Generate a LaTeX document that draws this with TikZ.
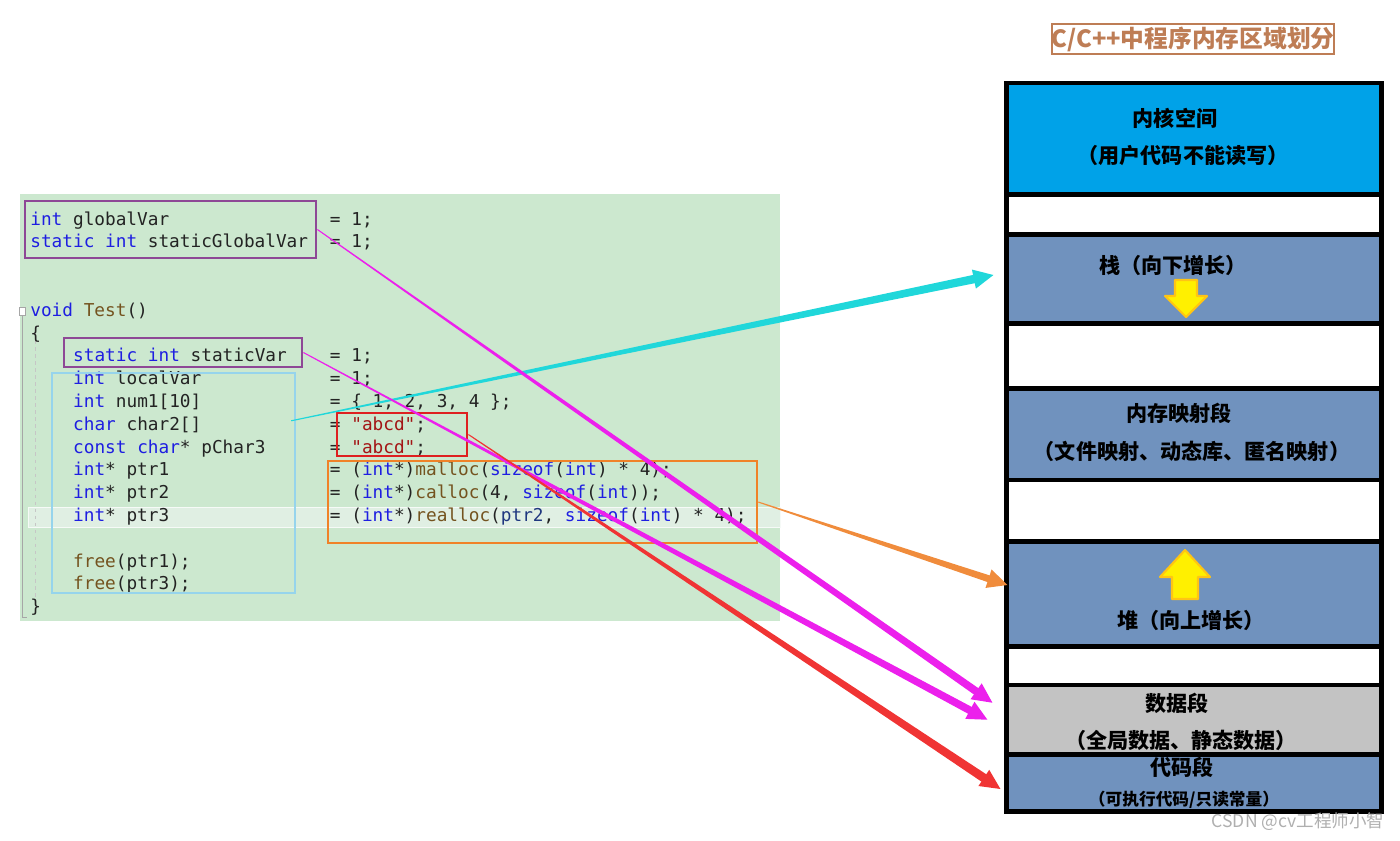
\documentclass[tikz,border=0pt]{standalone}
\usepackage{fontspec}
\setmonofont{DejaVu Sans Mono}
\newfontfamily\cjk{Noto Sans CJK SC}
\usepackage{tikz}
\usetikzlibrary{arrows.meta,calc,fit}

\definecolor{panelgreen}{RGB}{204,232,207}
\definecolor{curline}{RGB}{224,239,227}
\definecolor{kwblue}{RGB}{30,30,225}
\definecolor{fnbrown}{RGB}{116,83,31}
\definecolor{strred}{RGB}{163,21,21}
\definecolor{varblue}{RGB}{31,55,127}
\definecolor{codegray}{RGB}{35,35,35}
\definecolor{boxpurple}{RGB}{142,72,150}
\definecolor{boxsky}{RGB}{150,212,236}
\definecolor{boxred}{RGB}{222,32,32}
\definecolor{boxorange}{RGB}{240,130,40}
\definecolor{kernblue}{RGB}{0,162,232}
\definecolor{segblue}{RGB}{112,146,190}
\definecolor{seggray}{RGB}{195,195,195}
\definecolor{titlebrown}{RGB}{190,125,85}
\definecolor{arrcyan}{RGB}{32,215,218}
\definecolor{arrmagenta}{RGB}{236,32,236}
\definecolor{arrred}{RGB}{240,52,52}
\definecolor{arrorange}{RGB}{240,140,60}
\definecolor{growyellow}{RGB}{255,240,0}
\definecolor{growgold}{RGB}{255,196,20}
\definecolor{markgray}{RGB}{175,175,175}

\newcommand{\kwd}[1]{\textcolor{kwblue}{#1}}
\newcommand{\fnc}[1]{\textcolor{fnbrown}{#1}}
\newcommand{\strl}[1]{\textcolor{strred}{#1}}
\newcommand{\vrb}[1]{\textcolor{varblue}{#1}}

% tapered arrow: colour, start, tip, half width at the head
\newcommand{\taperto}[4]{%
  \coordinate (ta) at (#2);
  \coordinate (tb) at (#3);
  \coordinate (tc) at ($(tb)!0.38cm!(ta)$);
  \fill[#1] ($(ta)!0.3pt!90:(tb)$) -- ($(tc)!#4!-90:(ta)$)
    -- ($(tc)!#4!90:(ta)$) -- ($(ta)!0.3pt!-90:(tb)$) -- cycle;
  \draw[#1, line width=1pt, -{Triangle[length=0.4cm,width=0.38cm]}] (tc) -- (tb);
}

\tikzset{%
  code/.style={anchor=base west, inner sep=0pt, text=codegray,
    font=\fontsize{10.1}{12}\selectfont\ttfamily},
  hl/.style={draw=#1, line width=1.6pt, inner sep=0pt},
  seg/.style={draw=black, line width=2.3pt, inner sep=0pt},
  seglabel/.style={inner sep=0pt, text=black,
    font=\fontsize{12}{14}\selectfont\cjk\bfseries},
  growmark/.style={fill=growyellow, draw=growgold, line width=1.2pt, line join=round}
}

\begin{document}
\begin{tikzpicture}[x=0.02cm, y=-0.02cm]
\useasboundingbox (0,0) rectangle (1400,840);

% code panel
\node[fit={(20,194) (780,621)}, fill=panelgreen, inner sep=0pt] (panel) {};
\node[fit={(28,507) (780,527)}, fill=curline, draw=white!70!curline,
  line width=0.5pt, inner sep=0pt] (curln) {};
\node[draw=gray!70, fill=white, line width=0.4pt, minimum width=0.12cm,
  minimum height=0.16cm, inner sep=0pt] (fold) at (22,311) {};
\draw[gray!70, line width=0.4pt] (fold.south) -- (22,617) -- (27,617);
\draw[gray!45, line width=0.4pt, dash pattern=on 2pt off 2pt] (35,333) -- (35,600);

\node[code] (gvar) at (30,225) {\kwd{int} globalVar};
\node[code] (gvarval) at (329.6,225) {= 1;};
\node[code] (sgvar) at (30,247.8) {\kwd{static} \kwd{int} staticGlobalVar};
\node[code] (sgvarval) at (329.6,247.8) {= 1;};
\node[code] (test) at (30,316.2) {\kwd{void} \fnc{Test}()};
\node[code] (lbrace) at (30,339) {\{};
\node[code] (svar) at (72.8,361.8) {\kwd{static} \kwd{int} staticVar};
\node[code] (svarval) at (329.6,361.8) {= 1;};
\node[code] (lvar) at (72.8,384.6) {\kwd{int} localVar};
\node[code] (lvarval) at (329.6,384.6) {= 1;};
\node[code] (num) at (72.8,407.4) {\kwd{int} num1[10]};
\node[code] (numval) at (329.6,407.4) {= \{ 1, 2, 3, 4 \};};
\node[code] (chr) at (72.8,430.2) {\kwd{char} char2[]};
\node[code] (chrval) at (329.6,430.2) {= \strl{"abcd"};};
\node[code] (pch) at (72.8,453) {\kwd{const} \kwd{char}* pChar3};
\node[code] (pchval) at (329.6,453) {= \strl{"abcd"};};
\node[code] (pa) at (72.8,475.8) {\kwd{int}* ptr1};
\node[code] (paval) at (329.6,475.8)
  {= (\kwd{int}*)\fnc{malloc}(\kwd{sizeof}(\kwd{int}) * 4);};
\node[code] (pb) at (72.8,498.6) {\kwd{int}* ptr2};
\node[code] (pbval) at (329.6,498.6)
  {= (\kwd{int}*)\fnc{calloc}(4, \kwd{sizeof}(\kwd{int}));};
\node[code] (pc) at (72.8,521.4) {\kwd{int}* ptr3};
\node[code] (pcval) at (329.6,521.4)
  {= (\kwd{int}*)\fnc{realloc}(\vrb{ptr2}, \kwd{sizeof}(\kwd{int}) * 4);};
\node[code] (fra) at (72.8,567) {\fnc{free}(ptr1);};
\node[code] (frc) at (72.8,589.8) {\fnc{free}(ptr3);};
\node[code] (rbrace) at (30,612.6) {\}};

% marked regions
\node[hl=boxsky, line width=1.4pt, fit={(52,373) (295,593)}] (lbox) {};
\node[hl=boxpurple, fit={(25,201) (316,258)}] (gbox) {};
\node[hl=boxpurple, fit={(64,338) (302,367)}] (svbox) {};
\node[hl=boxred, fit={(337,413) (467,456)}] (rbox) {};
\node[hl=boxorange, line width=1.4pt, fit={(328,461) (757,543)}] (obox) {};

% memory layout
\node[draw=titlebrown, line width=1.1pt, text=titlebrown, inner sep=0pt,
  minimum width=5.64cm, minimum height=0.6cm,
  font=\fontsize{13.5}{16}\selectfont\cjk\bfseries] (title) at (1193,39)
  {C/C++中程序内存区域划分};

\node[seg, fill=kernblue, fit={(1006.5,83) (1381.5,194.5)}] (kern) {};
\node[seg, fill=white, fit={(1006.5,194.5) (1381.5,234.5)}] (gapa) {};
\node[seg, fill=segblue, fit={(1006.5,234.5) (1381.5,323.5)}] (stack) {};
\node[seg, fill=white, fit={(1006.5,323.5) (1381.5,388.5)}] (gapb) {};
\node[seg, fill=segblue, fit={(1006.5,388.5) (1381.5,480)}] (mmap) {};
\node[seg, fill=white, fit={(1006.5,480) (1381.5,541.5)}] (gapc) {};
\node[seg, fill=segblue, fit={(1006.5,541.5) (1381.5,646.5)}] (heap) {};
\node[seg, fill=white, fit={(1006.5,646.5) (1381.5,685)}] (gapd) {};
\node[seg, fill=seggray, fit={(1006.5,685) (1381.5,754.5)}] (data) {};
\node[seg, fill=segblue, fit={(1006.5,754.5) (1381.5,811.5)}] (code) {};

\node[seglabel] (kerna) at (1175,118) {内核空间};
\node[seglabel] (kernb) at (1183,155) {（用户代码不能读写）};
\node[seglabel] (stackt) at (1173,265) {栈（向下增长）};
\node[seglabel] (mmapa) at (1179,413) {内存映射段};
\node[seglabel] (mmapb) at (1192,451) {（文件映射、动态库、匿名映射）};
\node[seglabel] (heapt) at (1191,620) {堆（向上增长）};
\node[seglabel] (dataa) at (1177,703) {数据段};
\node[seglabel] (datab) at (1181,740) {（全局数据、静态数据）};
\node[seglabel] (codea) at (1182,767) {代码段};
\node[seglabel, font=\fontsize{9.5}{11}\selectfont\cjk\bfseries] (codeb)
  at (1184,800) {（可执行代码/只读常量）};

% growth directions
\filldraw[growmark] (1175,280) -- (1197,280) -- (1197,296) -- (1207,296)
  -- (1186,317) -- (1165,296) -- (1175,296) -- cycle;
\filldraw[growmark] (1185,550) -- (1210,577) -- (1198,577) -- (1198,599)
  -- (1172,599) -- (1172,577) -- (1160,577) -- cycle;

% where each variable lives
\taperto{arrcyan}{$(lbox.north east)+(-5,49)$}{$(stack.west)+(-11,-4)$}{2.4pt}
\taperto{arrmagenta}{gbox.east}{$(data.west)+(-12,-17)$}{2.2pt}
\taperto{arrmagenta}{svbox.east}{$(data.west)+(-17,0)$}{2.2pt}
\taperto{arrorange}{obox.east}{$(heap.west)+(3,-9)$}{2pt}
\taperto{arrred}{rbox.east}{$(code.west)+(-4,6)$}{2.5pt}

\node[text=markgray, inner sep=0pt, font=\fontsize{10}{12}\selectfont\cjk]
  (mark) at (1298,822) {CSDN @cv工程师小智};
\end{tikzpicture}
\end{document}
